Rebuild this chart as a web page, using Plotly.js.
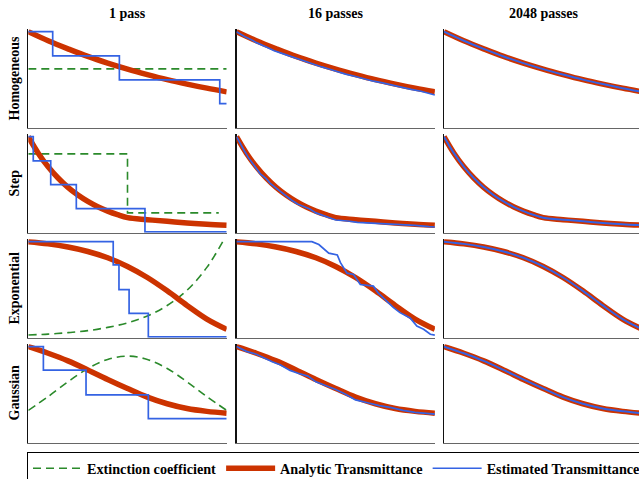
<!DOCTYPE html>
<html><head><meta charset="utf-8">
<script src="https://cdn.plot.ly/plotly-3.0.1.min.js"></script>
<style>html,body{margin:0;padding:0;overflow:hidden;background:#fff}</style>
</head><body><div id="chart"></div>
<script>
// ---------- labels ----------
const colTitles = ['1 pass', '16 passes', '2048 passes'];
const rowTitles = ['Homogeneous', 'Step', 'Exponential', 'Gaussian'];
const legendNames = ['Extinction coefficient', 'Analytic Transmittance', 'Estimated Transmittance'];

// ---------- analytic transmittance ----------
const gridX = [0, 0.1, 0.2, 0.3, 0.4, 0.5, 0.6, 0.7, 0.8, 0.9, 1.0];
const homAnalytic = [1.0, 0.905, 0.82, 0.74, 0.67, 0.607, 0.55, 0.497, 0.45, 0.407, 0.368];
const stepX = [0, 0.05, 0.1, 0.15, 0.2, 0.25, 0.3, 0.35, 0.4, 0.45, 0.5, 0.6, 0.7, 0.8, 0.9, 1.0];
const stepAnalytic = [1.0, 0.827, 0.684, 0.566, 0.468, 0.387, 0.32, 0.264, 0.219, 0.181, 0.15, 0.129, 0.111, 0.095, 0.081, 0.07];
const expAnalytic = [1.0, 0.977, 0.944, 0.897, 0.831, 0.74, 0.624, 0.484, 0.331, 0.188, 0.08];
const gauAnalytic = [1.0, 0.93, 0.85, 0.755, 0.655, 0.56, 0.47, 0.40, 0.35, 0.32, 0.30];

// ---------- extinction coefficient ----------
const homExtX = [0, 1.0];
const homExt = [0.61, 0.61];
const stepExtX = [0, 0.5, 0.5, 0.96];
const stepExt = [0.82, 0.82, 0.20, 0.20];
const expExtX = [0, 0.1, 0.2, 0.3, 0.4, 0.5, 0.6, 0.7, 0.8, 0.9, 0.98];
const expExt = [0.02, 0.03, 0.045, 0.066, 0.1, 0.148, 0.22, 0.33, 0.49, 0.73, 1.0];
const gauExt = [0.33, 0.475, 0.63, 0.77, 0.865, 0.9, 0.865, 0.77, 0.63, 0.475, 0.33];

// ---------- estimated transmittance, 1 pass ----------
const homEst1X = [0, 0.123, 0.459, 0.965, 1.0];
const homEst1 = [1.0, 0.747, 0.494, 0.244, 0.244];
const stepEst1X = [0, 0.025, 0.113, 0.242, 0.588, 1.0];
const stepEst1 = [1.0, 0.747, 0.497, 0.244, 0.0, 0.0];
const expEst1X = [0, 0.428, 0.457, 0.508, 0.605, 1.0];
const expEst1 = [1.0, 0.757, 0.497, 0.247, 0.0, 0.0];
const gauEst1X = [0, 0.076, 0.291, 0.605, 1.0];
const gauEst1 = [1.0, 0.753, 0.493, 0.243, 0.243];

// ---------- estimated transmittance, 16 passes ----------
const homEst16X = [0, 0.04, 0.08, 0.1, 0.15, 0.19, 0.24, 0.28, 0.33, 0.38, 0.43, 0.47, 0.52, 0.55, 0.6, 0.64, 0.69, 0.73, 0.78, 0.83, 0.88, 0.93, 0.97, 1.0];
const homEst16 = [1.0, 0.95, 0.91, 0.885, 0.84, 0.80, 0.765, 0.735, 0.70, 0.665, 0.63, 0.605, 0.57, 0.555, 0.53, 0.505, 0.48, 0.465, 0.44, 0.42, 0.395, 0.375, 0.355, 0.335];
const stepEst16X = [0, 0.02, 0.04, 0.06, 0.08, 0.1, 0.12, 0.15, 0.17, 0.2, 0.23, 0.26, 0.28, 0.31, 0.34, 0.37, 0.4, 0.43, 0.47, 0.5, 0.56, 0.61, 0.68, 0.75, 0.84, 0.9, 0.97, 1.0];
const stepEst16 = [1.0, 0.92, 0.85, 0.78, 0.72, 0.67, 0.61, 0.56, 0.51, 0.46, 0.41, 0.36, 0.33, 0.29, 0.265, 0.24, 0.2, 0.175, 0.15, 0.125, 0.115, 0.1, 0.092, 0.085, 0.072, 0.068, 0.055, 0.052];
const expEst16X = [0, 0.38, 0.415, 0.44, 0.465, 0.508, 0.524, 0.557, 0.59, 0.624, 0.69, 0.715, 0.757, 0.79, 0.824, 0.85, 0.875, 0.909, 0.943, 0.977, 1.0];
const expEst16 = [1.0, 1.0, 0.97, 0.92, 0.88, 0.86, 0.78, 0.67, 0.656, 0.55, 0.533, 0.46, 0.377, 0.31, 0.255, 0.23, 0.2, 0.115, 0.08, 0.028, 0.018];
const gauEst16X = [0, 0.05, 0.1, 0.14, 0.18, 0.22, 0.27, 0.31, 0.36, 0.4, 0.45, 0.5, 0.55, 0.6, 0.66, 0.72, 0.78, 0.84, 0.9, 0.95, 1.0];
const gauEst16 = [1.0, 0.95, 0.92, 0.88, 0.84, 0.81, 0.75, 0.72, 0.69, 0.63, 0.59, 0.55, 0.50, 0.44, 0.41, 0.38, 0.36, 0.33, 0.31, 0.30, 0.29];

// ---------- estimated transmittance, 2048 passes (on the analytic curve) ----------
const homEst2048 = [1.0, 0.905, 0.82, 0.74, 0.67, 0.607, 0.55, 0.497, 0.45, 0.407, 0.368];
const stepEst2048 = [1.0, 0.827, 0.684, 0.566, 0.468, 0.387, 0.32, 0.264, 0.219, 0.181, 0.15, 0.129, 0.111, 0.095, 0.081, 0.07];
const expEst2048 = [1.0, 0.977, 0.944, 0.897, 0.831, 0.74, 0.624, 0.484, 0.331, 0.188, 0.08];
const gauEst2048 = [1.0, 0.93, 0.85, 0.755, 0.655, 0.56, 0.47, 0.40, 0.35, 0.32, 0.30];

// ---------- assemble ----------
const rows = [
  {ax: gridX, a: homAnalytic, ex: homExtX, e: homExt,
   est: [[homEst1X, homEst1, 'hv'], [homEst16X, homEst16, 'linear'], [gridX, homEst2048, 'spline']]},
  {ax: stepX, a: stepAnalytic, ex: stepExtX, e: stepExt,
   est: [[stepEst1X, stepEst1, 'hv'], [stepEst16X, stepEst16, 'linear'], [stepX, stepEst2048, 'spline']]},
  {ax: gridX, a: expAnalytic, ex: expExtX, e: expExt,
   est: [[expEst1X, expEst1, 'hv'], [expEst16X, expEst16, 'linear'], [gridX, expEst2048, 'spline']]},
  {ax: gridX, a: gauAnalytic, ex: gridX, e: gauExt,
   est: [[gauEst1X, gauEst1, 'hv'], [gauEst16X, gauEst16, 'linear'], [gridX, gauEst2048, 'spline']]}
];

const W = 740, H = 492;
const colLeft = [28.3, 236.5, 444.0], colW = 198.4;
const rowBottom = [127.7, 232.7, 337.7, 442.6], rowH = 98.4;

const RED = '#cc3300', BLUE = '#3463e3', GREEN = '#2b8a2b';
const FONT = 'Liberation Serif, Times New Roman, serif';

const traces = [];
const layout = {
  width: W, height: H,
  margin: {l: 0, r: 0, t: 0, b: 0},
  paper_bgcolor: '#fff', plot_bgcolor: '#fff',
  font: {family: FONT, size: 14, color: '#000'},
  showlegend: true,
  legend: {
    orientation: 'h', x: 27 / W, y: 1 - 451.5 / H, xanchor: 'left', yanchor: 'top',
    bordercolor: '#000', borderwidth: 1, bgcolor: '#fff',
    font: {family: FONT, size: 14.2, color: '#000', weight: 'bold'},
    itemwidth: 49, traceorder: 'normal'
  },
  annotations: []
};

let k = 0;
rows.forEach((r, ri) => {
  for (let ci = 0; ci < 3; ci++) {
    k++;
    const xa = 'x' + (k === 1 ? '' : k), ya = 'y' + (k === 1 ? '' : k);
    const xName = 'xaxis' + (k === 1 ? '' : k), yName = 'yaxis' + (k === 1 ? '' : k);
    layout[xName] = {
      domain: [colLeft[ci] / W, (colLeft[ci] + colW) / W], anchor: ya,
      range: [0, 1], showticklabels: false, ticks: '', showgrid: false, zeroline: false,
      showline: true, linecolor: '#666', linewidth: 1.5, layer: 'below traces', fixedrange: true
    };
    layout[yName] = {
      domain: [1 - rowBottom[ri] / H, 1 - (rowBottom[ri] - rowH) / H], anchor: xa,
      range: [-0.008, 1.025], showticklabels: false, ticks: '', showgrid: false, zeroline: false,
      showline: true, linecolor: '#111', linewidth: 1.5, layer: 'below traces', fixedrange: true
    };
    const first = (k === 1);
    if (ci === 0) {
      traces.push({x: r.ex, y: r.e, xaxis: xa, yaxis: ya, type: 'scatter', mode: 'lines',
        line: {color: GREEN, width: 1.6, dash: '8px,5px', shape: ri === 0 || ri === 1 ? 'linear' : 'spline'},
        name: legendNames[0], legendgroup: 'ext', showlegend: first, hoverinfo: 'skip'});
    }
    traces.push({x: r.ax, y: r.a, xaxis: xa, yaxis: ya, type: 'scatter', mode: 'lines',
      line: {color: RED, width: 5.5, shape: 'spline'},
      name: legendNames[1], legendgroup: 'ana', showlegend: first, hoverinfo: 'skip'});
    const e = r.est[ci];
    traces.push({x: e[0], y: e[1], xaxis: xa, yaxis: ya, type: 'scatter', mode: 'lines',
      line: {color: BLUE, width: ci === 2 ? 2 : 1.7, shape: e[2]},
      name: legendNames[2], legendgroup: 'est', showlegend: first, hoverinfo: 'skip'});
  }
});

colTitles.forEach((t, ci) => {
  layout.annotations.push({text: '<b>' + t + '</b>', xref: 'paper', yref: 'paper',
    x: (colLeft[ci] + colW / 2) / W, y: 1 - 13.5 / H, xanchor: 'center', yanchor: 'middle',
    showarrow: false, font: {family: FONT, size: 14, color: '#000'}});
});
rowTitles.forEach((t, ri) => {
  layout.annotations.push({text: '<b>' + t + '</b>', xref: 'paper', yref: 'paper',
    x: 14 / W, y: 1 - (rowBottom[ri] - rowH / 2) / H, xanchor: 'center', yanchor: 'middle',
    textangle: -90, showarrow: false, font: {family: FONT, size: 14, color: '#000'}});
});

Plotly.newPlot('chart', traces, layout, {displayModeBar: false, staticPlot: true});
</script>
</body></html>
